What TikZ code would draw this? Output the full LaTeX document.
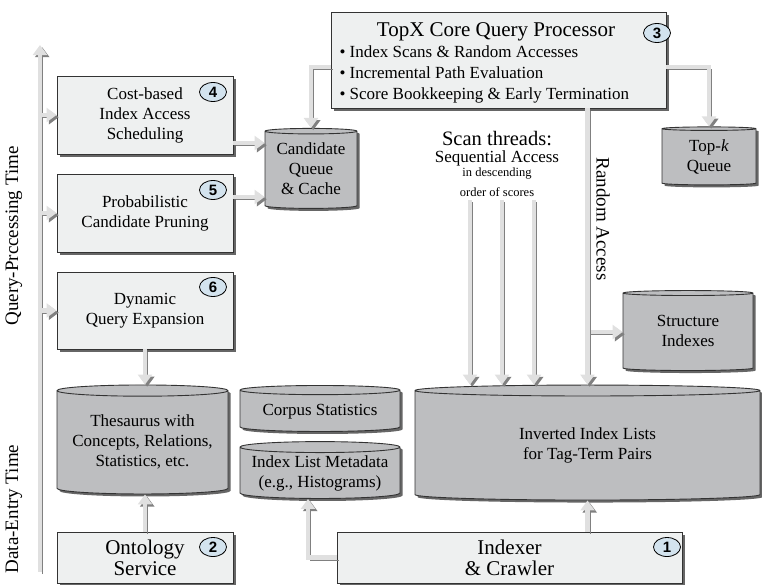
\documentclass[tikz,border=0pt]{standalone}
\usepackage{fontspec}
\setmainfont{Liberation Serif}
\newfontfamily\badgefont{Liberation Sans}
\usetikzlibrary{positioning}
\usetikzlibrary{shapes.geometric}
\usetikzlibrary{shadows}
\usetikzlibrary{arrows.meta}

\definecolor{boxfill}{HTML}{EEF0F0}
\definecolor{storefill}{HTML}{BDBEC0}
\definecolor{badgefill}{HTML}{D3E3EE}
\definecolor{flowfill}{HTML}{E0E0E0}
\definecolor{flowedge}{HTML}{808080}

% centred lines inside a store, pushed down below the lid
\newcommand{\storetext}[2]{\raisebox{-#1}{\begin{tabular}{@{}c@{}}#2\end{tabular}}}

\tikzset{
  proc/.style={draw=black!80, fill=boxfill, line width=0.9pt, align=center,
    font=\fontsize{17}{20}\selectfont,
    drop shadow={shadow xshift=2.5pt, shadow yshift=-2.5pt, fill=black!60, opacity=1}},
  store/.style={cylinder, shape border rotate=90, aspect=0.08, draw=black!80,
    line width=0.9pt, fill=storefill, inner sep=0pt,
    font=\fontsize{17}{20}\selectfont,
    drop shadow={shadow xshift=2.5pt, shadow yshift=-2.5pt, fill=black!60, opacity=1}},
  badge/.style={ellipse, draw, line width=0.8pt, fill=badgefill, inner sep=0pt,
    minimum width=27pt, minimum height=19pt,
    font=\badgefont\bfseries\fontsize{15}{15}\selectfont},
  flow/.style={draw=flowfill, line width=4.5pt, -{Triangle[width=14pt, length=10pt]},
    preaction={draw=flowedge, transform canvas={xshift=2.2pt, yshift=-2.2pt}}},
  axislabel/.style={font=\fontsize{19}{19}\selectfont},
  scanline/.style={inner sep=0pt}
}

\begin{document}
\begin{tikzpicture}[x=1pt, y=-1pt]
\useasboundingbox (0,0) rectangle (762,584);

% time axis on the left
\coordinate (axtop) at (40,45);
\coordinate (axbot) at (40,572);
\node[axislabel, rotate=90] (qtime) at (14,236) {Query-Prccessing Time};
\node[axislabel, rotate=90] (dtime) at (14,509) {Data-Entry Time};

% query-time components
\node (sched) at (145,115) [proc, minimum width=176pt, minimum height=78pt] {Cost-based\\Index Access\\Scheduling};
\node (prune) at (145,213) [proc, minimum width=176pt, minimum height=78pt] {Probabilistic\\Candidate Pruning};
\node (expand) at (145,310.5) [proc, minimum width=176pt, minimum height=77pt] {Dynamic\\Query Expansion};

\node (core) at (498.5,60) [proc, minimum width=335pt, minimum height=96pt] {};
\node (coretitle) at (496,36) [anchor=base, font=\fontsize{21}{24}\selectfont] {TopX Core Query Processor};
\node (corelist) at (336,99) [anchor=base west, align=left, font=\fontsize{17}{20.7}\selectfont]
  {\textbullet\ Index Scans \& Random Accesses\\
   \textbullet\ Incremental Path Evaluation\\
   \textbullet\ Score Bookkeeping \& Early Termination};

% stores
\node (cand) at (311,170) [store, minimum width=92pt, minimum height=80pt] {\storetext{2pt}{Candidate\\Queue\\\& Cache}};
\node (topk) at (709,157) [store, minimum width=94pt, minimum height=58pt] {\storetext{4pt}{Top-\textit{k}\\Queue}};
\node (struct) at (688,332) [store, minimum width=130pt, minimum height=80pt] {\storetext{5pt}{Structure\\Indexes}};
\node (inv) at (587.5,445.5) [store, minimum width=345pt, minimum height=115pt] {\storetext{9pt}{Inverted Index Lists\\for Tag-Term Pairs}};
\node (corpus) at (320,411) [store, minimum width=160pt, minimum height=46pt] {\storetext{3pt}{Corpus Statistics}};
\node (meta) at (320,473) [store, minimum width=160pt, minimum height=50pt] {\storetext{2pt}{Index List Metadata\\(e.g., Histograms)}};
\node (thes) at (142.5,442.5) [store, minimum width=171pt, minimum height=109pt] {\storetext{6pt}{Thesaurus with\\Concepts, Relations,\\Statistics, etc.}};

% data-entry components
\node (onto) at (145,557.5) [proc, minimum width=176pt, minimum height=51pt, font=\fontsize{21}{21}\selectfont] {Ontology\\Service};
\node (crawl) at (509.5,557.5) [proc, minimum width=345pt, minimum height=51pt, font=\fontsize{21}{21}\selectfont] {Indexer\\\& Crawler};

% numbers
\node (b1) at (667,547) [badge] {1};
\node (b2) at (213,547) [badge] {2};
\node (b3) at (657,33) [badge] {3};
\node (b4) at (213,92) [badge] {4};
\node (b5) at (213,190) [badge] {5};
\node (b6) at (213,287) [badge] {6};

% scan threads
\node (scanhead) at (497,139) [scanline, font=\fontsize{20.5}{21}\selectfont] {Scan threads:};
\node (scanseq) at (497,158) [scanline, font=\fontsize{17}{18}\selectfont] {Sequential Access};
\node (scanord) at (497,174) [scanline, font=\fontsize{12.5}{13}\selectfont] {in descending};
\node (scanscore) at (497,192) [scanline, font=\fontsize{12.5}{13}\selectfont] {order of scores};
\coordinate (s1) at (470,200);
\coordinate (s2) at (502,200);
\coordinate (s3) at (534,200);

\node (ralabel) at (603,219) [rotate=-90, font=\fontsize{19}{19}\selectfont] {Random Access};

% flows
\draw[flow] (axbot) -- (axtop);
\draw[flow] (sched.west -| axbot) -- (sched.west);
\draw[flow] (prune.west -| axbot) -- (prune.west);
\draw[flow] (expand.west -| axbot) -- (expand.west);

\coordinate (schedout) at ([yshift=-28pt]sched.east);
\coordinate (pruneout) at ([yshift=16pt]prune.east);
\draw[flow] (schedout) -- (schedout -| cand.west);
\draw[flow] (pruneout) -- (pruneout -| cand.west);

\coordinate (coreleft) at ([yshift=-7pt]core.west);
\coordinate (coreright) at ([yshift=-7pt]core.east);
\draw[flow] (coreleft) -| (cand.north);
\draw[flow] (coreright) -| (topk.north);

\draw[flow] (struct.west -| inv.north) -- (struct.west);
\draw[flow] (core.south -| inv.north) -- (inv.north);
\draw[flow] (s1) -- (s1 |- inv.north);
\draw[flow] (s2) -- (s2 |- inv.north);
\draw[flow] (s3) -- (s3 |- inv.north);

\draw[flow] (expand.south) -- (expand.south |- thes.north);
\draw[flow] (onto.north) -- (onto.north |- thes.south);
\draw[flow] (crawl.north -| inv.south) -- (inv.south);
\draw[flow] (crawl.west) -| ([xshift=-12pt]meta.south);
\end{tikzpicture}
\end{document}
